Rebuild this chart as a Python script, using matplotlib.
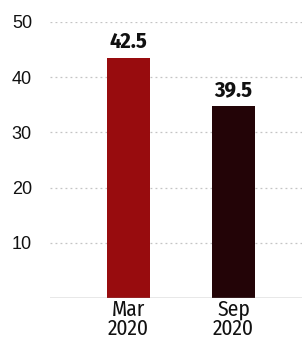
import matplotlib
matplotlib.use("Agg")
import matplotlib.pyplot as plt

# data
categories = ["Mar\n2020", "Sep\n2020"]
bar_heights = [43.5, 34.8]      # heights as drawn in the picture
value_labels = ["42.5", "39.5"]  # printed labels
bar_colors = ["#980c0e", "#230407"]
y_ticks = [10, 20, 30, 40, 50]

cond = ["Fira Sans Condensed", "DejaVu Sans"]

fig = plt.figure(figsize=(3.02, 3.45), dpi=100)
ax = fig.add_axes([50 / 302, 47 / 345, 252 / 302, 276 / 345])

x = list(range(len(categories)))
ax.bar(x, bar_heights, width=0.41, color=bar_colors, zorder=3)

for xi, h, lab in zip(x, bar_heights, value_labels):
    ax.text(xi, h + 1.0, lab, ha="center", va="bottom", fontsize=16,
            fontweight="bold", family=cond, color="#111111")

ax.set_xlim(-0.748, 1.652)
ax.set_ylim(0, 50)

for t in y_ticks:
    ax.axhline(t, color="#c4c4c4", lw=0.9, ls=(0, (1.5, 2.5)), zorder=1)
ax.axhline(0, color="#8a8a8a", lw=1.0, zorder=4)

ax.set_yticks(y_ticks)
ax.set_yticklabels([str(t) for t in y_ticks], fontsize=13,
                   family=["Liberation Sans", "DejaVu Sans"], color="#111111")
ax.set_xticks(x)
ax.set_xticklabels(categories, fontsize=15.5, linespacing=0.9,
                   family=cond, color="#111111")
ax.tick_params(axis="y", length=0, pad=13)
ax.tick_params(axis="x", length=0, pad=0.5)

for s in ax.spines.values():
    s.set_visible(False)

fig.savefig("out.png", dpi=100)
